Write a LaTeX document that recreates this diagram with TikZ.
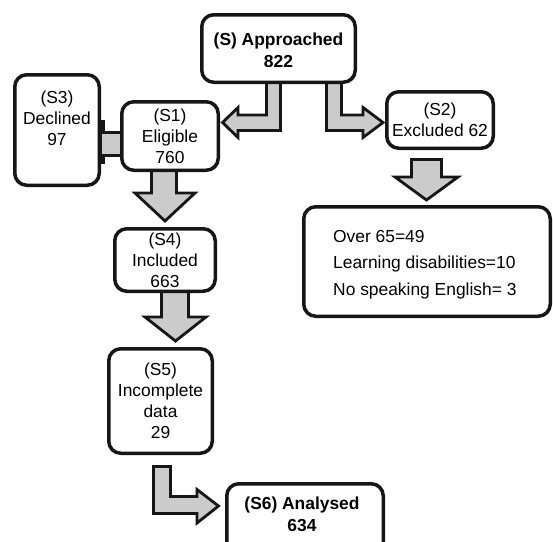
\documentclass[tikz,border=0pt]{standalone}
\usepackage{fontspec}
\setmainfont{Liberation Sans}
\definecolor{arrowgray}{HTML}{CBCBCB}
\definecolor{boxline}{HTML}{161616}
\begin{document}
\begin{tikzpicture}[x=1pt,y=-1pt,
  box/.style={draw=boxline, line width=3.5pt, rounded corners=12pt, fill=white,
    inner sep=0pt, align=center, font=\fontsize{17.4}{21}\selectfont},
  txt/.style={inner sep=0pt, align=center, font=\fontsize{17.4}{21}\selectfont},
  btxt/.style={txt, font=\fontsize{17.4}{22}\selectfont\bfseries},
  ltxt/.style={inner sep=0pt, anchor=base west, font=\fontsize{17.4}{21}\selectfont},
  blockarrow/.style={draw=boxline, fill=arrowgray, line width=2.8pt, line join=miter}]
\useasboundingbox (0,0) rectangle (553,541);
\fill[white] (0,0) rectangle (553,541);

% block arrows (drawn first, boxes cover their ends)
\draw[blockarrow] (266.5,78) -- (266.5,115) -- (238,115) -- (238,107.5) -- (222.5,122.5)
  -- (238,137.5) -- (238,130.5) -- (280.5,130.5) -- (280.5,78) -- cycle;
\draw[blockarrow] (326.5,78) -- (326.5,130.5) -- (363,130.5) -- (363,137.5) -- (383,122.5)
  -- (363,107.5) -- (363,115) -- (341.5,115) -- (341.5,78) -- cycle;
\draw[blockarrow] (411.5,159.5) -- (411.5,177) -- (395,177) -- (426.5,200) -- (458,177)
  -- (441.5,177) -- (441.5,159.5) -- cycle;
\draw[blockarrow] (151.5,166) -- (151.5,193) -- (135,193) -- (165,221) -- (195,193)
  -- (176.5,193) -- (176.5,166) -- cycle;
\draw[blockarrow] (161.5,288) -- (161.5,317) -- (145,317) -- (175.5,341) -- (206,317)
  -- (188.5,317) -- (188.5,288) -- cycle;
\draw[blockarrow] (153.5,466.5) -- (153.5,513.5) -- (197,513.5) -- (197,523) -- (218.5,506)
  -- (197,489.5) -- (197,496.5) -- (170.5,496.5) -- (170.5,466.5) -- cycle;
% S3 -- S1 connector
\fill[boxline] (99,120) rectangle (105,164);
\draw[blockarrow] (101,132.5) rectangle (122,155.5);

% boxes
\node[box, minimum width=153.5pt, minimum height=67.5pt] (S) at (278.5,48.5) {};
\node[btxt] (St) at (278.5,50) {(S) Approached\\822};
\node[box, minimum width=84.5pt, minimum height=110.5pt] (S3) at (57,130) {};
\node[txt] (S3t) at (57,118) {(S3)\\Declined\\97};
\node[box, minimum width=96.5pt, minimum height=68.5pt] (S1) at (170,136) {(S1)\\Eligible\\760};
\node[box, minimum width=106.5pt, minimum height=56.5pt] (S2) at (440,120) {(S2)\\Excluded 62};
\node[box, minimum width=246.5pt, minimum height=109.5pt] (D) at (427,261.5) {};
\node[ltxt] (d1) at (333,242) {Over 65=49};
\node[ltxt] (d2) at (333,268.5) {Learning disabilities=10};
\node[ltxt] (d3) at (333,295) {No speaking English= 3};
\node[box, minimum width=100.5pt, minimum height=62.5pt] (S4) at (165,260) {(S4)\\Included\\663};
\node[box, minimum width=103.5pt, minimum height=104.5pt] (S5) at (160.5,401) {(S5)\\Incomplete\\data\\29};
\node[box, minimum width=156.5pt, minimum height=79.5pt] (S6) at (305,523.5) {};
\node[btxt] (S6t) at (302,514) {(S6) Analysed\\634};
\end{tikzpicture}
\end{document}
